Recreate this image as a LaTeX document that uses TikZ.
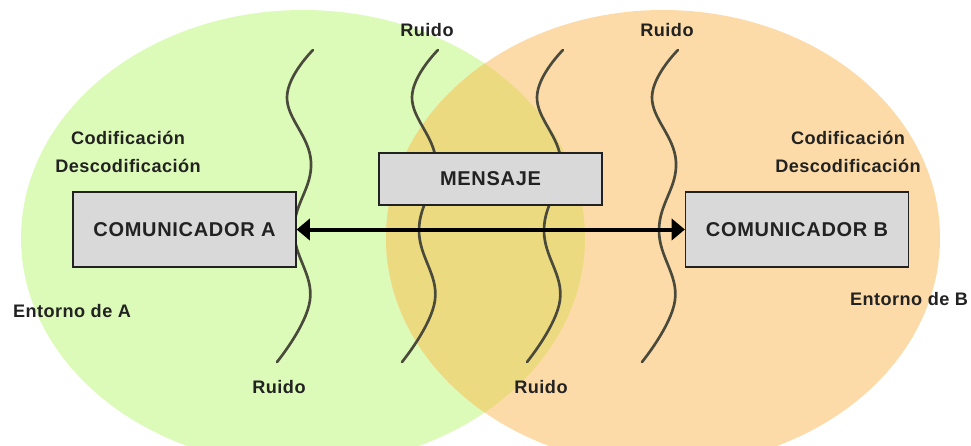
\documentclass[tikz,border=0pt]{standalone}
\usepackage{fontspec}
\setmainfont{Liberation Sans}
\usetikzlibrary{arrows.meta}
\definecolor{greenE}{HTML}{DDFBB8}
\definecolor{orangeE}{HTML}{FDDBA8}
\definecolor{overlapE}{HTML}{ECDA80}
\definecolor{boxfill}{HTML}{D9D9D9}
\definecolor{waveC}{HTML}{4A4A3C}
\definecolor{txt}{HTML}{222222}
\begin{document}
\begin{tikzpicture}[x=0.75pt,y=-0.75pt,
  lbl/.style={font=\bfseries\fontsize{13.6}{15}\selectfont\addfontfeature{LetterSpace=2.5}, text=txt, inner sep=0pt},
  boxlbl/.style={font=\bfseries\fontsize{15}{17}\selectfont\addfontfeature{LetterSpace=3.5}, text=txt},
  stepbox/.style={draw=txt, line width=1.2pt, fill=boxfill, inner sep=0pt,
                  minimum width=167pt, minimum height=56pt},
  wave/.style={draw=waveC, line width=2pt, line cap=round},
  conn/.style={line width=3pt, {Triangle[length=10pt,width=16pt]}-{Triangle[length=10pt,width=16pt]}}]
\useasboundingbox (0,0) rectangle (971,446);
% environments
\fill[greenE] (303,238) ellipse [x radius=282, y radius=228];
\fill[orangeE] (663,238) ellipse [x radius=277, y radius=228];
\begin{scope}
  \clip (303,238) ellipse [x radius=282, y radius=228];
  \fill[overlapE] (663,238) ellipse [x radius=277, y radius=228];
\end{scope}
% noise waves
\foreach \dx in {0,125,250,365}{
  \draw[wave, shift={(\dx,0)}] plot[smooth, tension=0.7] coordinates
    {(313,50) (287,97) (311,162) (294,230) (310,300) (277,362)};
}
% boxes
\node[stepbox, boxlbl] (A) at (184.5,229.5) {COMUNICADOR A};
\node[stepbox, boxlbl] (B) at (797,229.5) {COMUNICADOR B};
\node[stepbox, boxlbl, minimum height=39pt] (M) at (490.5,179) {MENSAJE};
\draw[conn] (A.east) -- (B.west);
% labels
\node[lbl] (r1) at (427,30) {Ruido};
\node[lbl] (r2) at (667,30) {Ruido};
\node[lbl] (r3) at (279,387) {Ruido};
\node[lbl] (r4) at (541,387) {Ruido};
\node[lbl] (ca) at (128,138) {Codificación};
\node[lbl] (da) at (128,166) {Descodificación};
\node[lbl] (cb) at (848,138) {Codificación};
\node[lbl] (db) at (848,166) {Descodificación};
\node[lbl] (ea) at (72,311) {Entorno de A};
\node[lbl] (eb) at (909,299) {Entorno de B};
\end{tikzpicture}
\end{document}
